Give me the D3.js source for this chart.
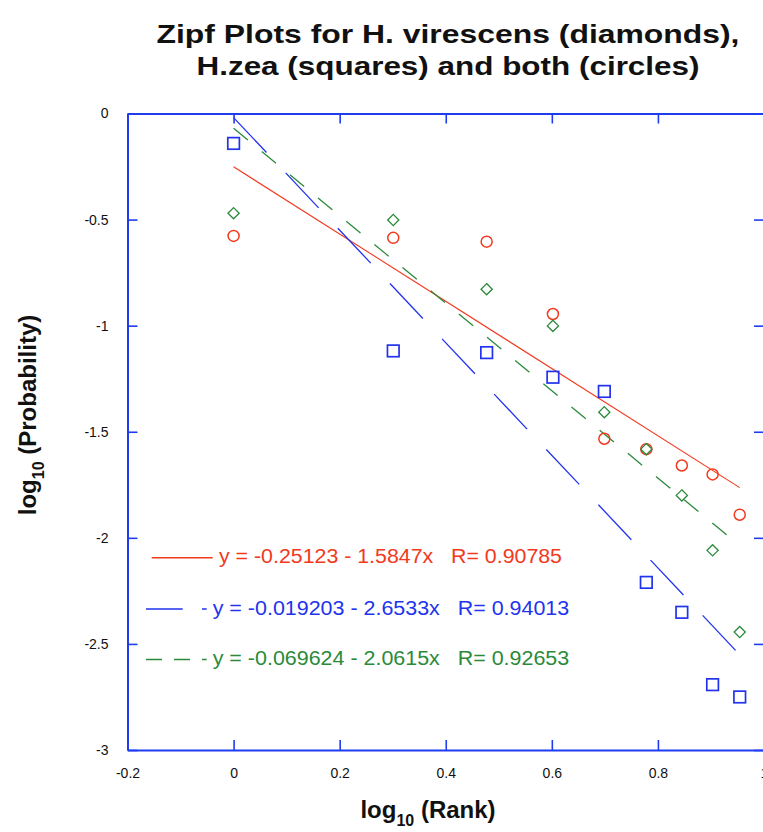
<!DOCTYPE html>
<html><head><meta charset="utf-8">
<script src="https://cdn.jsdelivr.net/npm/d3@7"></script>
<style>body{margin:0;background:#fff;} svg{display:block;}</style>
</head><body>
<svg id="chart" width="763" height="832"></svg>
<script>
// ---- data ----
const logRank = [0, 0.30103, 0.47712, 0.60206, 0.69897, 0.77815, 0.84510, 0.90309, 0.95424];
const bothCircles = [-0.577, -0.586, -0.604, -0.945, -1.533, -1.582, -1.659, -1.701, -1.891];
const virescensDiamonds = [-0.470, -0.502, -0.828, -1.001, -1.408, -1.582, -1.800, -2.059, -2.444];
const zeaSquares = [-0.141, -1.119, -1.127, -1.243, -1.310, -2.210, -2.351, -2.692, -2.750];
const fitIntercepts = [-0.25123, -0.019203, -0.069624];
const fitSlopes = [-1.5847, -2.6533, -2.0615];
const legendLabels = [
  "y = -0.25123 - 1.5847x   R= 0.90785",
  "y = -0.019203 - 2.6533x   R= 0.94013",
  "y = -0.069624 - 2.0615x   R= 0.92653"
];
const xTicks = [-0.2, 0, 0.2, 0.4, 0.6, 0.8, 1];
const yTicks = [0, -0.5, -1, -1.5, -2, -2.5, -3];
const titleLines = ["Zipf Plots for H. virescens (diamonds),", "H.zea (squares) and both (circles)"];

// ---- styles ----
const RED = "#f2391e", BLUE = "#2233ee", GREEN = "#2a8a3a", AXIS = "#1f3cf0";
const FONT = "'Liberation Sans', Arial, Helvetica, sans-serif";

const svg = d3.select("#chart");
const x = d3.scaleLinear().domain([-0.2, 1]).range([127.5, 764]);
const y = d3.scaleLinear().domain([-3, 0]).range([750, 113.5]);

// title
svg.append("g").selectAll("text").data(titleLines).join("text")
  .attr("x", 448).attr("y", (d, i) => 43 + i * 32)
  .attr("text-anchor", "middle")
  .attr("font-family", FONT).attr("font-weight", "bold").attr("font-size", 26.5)
  .attr("textLength", (d, i) => i === 0 ? 583 : 503)
  .attr("lengthAdjust", "spacingAndGlyphs")
  .attr("fill", "#111").text(d => d);

// axes
const fmt = d => String(d);
function styleAxis(g) {
  g.selectAll(".domain").attr("stroke", AXIS).attr("stroke-width", 2);
  g.selectAll(".tick line").attr("stroke", AXIS).attr("stroke-width", 1.6);
  g.selectAll("text").attr("font-family", FONT).attr("font-size", 14).attr("fill", "#111");
}
svg.append("g").attr("transform", `translate(0,${y(-3)})`)
  .call(d3.axisBottom(x).tickValues(xTicks).tickFormat(fmt).tickSizeInner(-10).tickSizeOuter(0).tickPadding(18))
  .call(styleAxis);
svg.append("g").attr("transform", `translate(0,${y(0)})`)
  .call(d3.axisTop(x).tickValues(xTicks).tickFormat("").tickSizeInner(-10).tickSizeOuter(0))
  .call(styleAxis);
svg.append("g").attr("transform", `translate(${x(-0.2)},0)`)
  .call(d3.axisLeft(y).tickValues(yTicks).tickFormat(fmt).tickSizeInner(-10).tickSizeOuter(0).tickPadding(19))
  .call(styleAxis);
svg.append("g").attr("transform", `translate(${x(1)},0)`)
  .call(d3.axisRight(y).tickValues(yTicks).tickFormat("").tickSizeInner(-10).tickSizeOuter(0))
  .call(styleAxis);

// axis titles
const xl = svg.append("text").attr("x", 428).attr("y", 818).attr("text-anchor", "middle")
  .attr("font-family", FONT).attr("font-weight", "bold").attr("font-size", 24).attr("fill", "#111");
xl.append("tspan").text("log");
xl.append("tspan").attr("font-size", 16).attr("dy", 8).text("10");
xl.append("tspan").attr("dy", -8).text(" (Rank)");

const yl = svg.append("text").attr("transform", "translate(36,415) rotate(-90)").attr("text-anchor", "middle")
  .attr("font-family", FONT).attr("font-weight", "bold").attr("font-size", 24).attr("fill", "#111");
yl.append("tspan").text("log");
yl.append("tspan").attr("font-size", 16).attr("dy", 8).text("10");
yl.append("tspan").attr("dy", -8).text(" (Probability)");

// fit lines
const fitColors = [RED, BLUE, GREEN];
const fitDash = [null, "48,28", "18.5,18"];
const fitWidth = [1.1, 1.3, 1.3];
const xEnd = logRank[logRank.length - 1];
fitIntercepts.forEach((b, i) => {
  const m = fitSlopes[i];
  svg.append("line")
    .attr("x1", x(0)).attr("y1", y(b))
    .attr("x2", x(xEnd)).attr("y2", y(b + m * xEnd))
    .attr("stroke", fitColors[i]).attr("stroke-width", fitWidth[i])
    .attr("stroke-dasharray", fitDash[i]);
});

// markers
svg.append("g").selectAll("circle").data(bothCircles).join("circle")
  .attr("cx", (d, i) => x(logRank[i])).attr("cy", d => y(d)).attr("r", 5.5)
  .attr("fill", "none").attr("stroke", RED).attr("stroke-width", 1.5);
svg.append("g").selectAll("rect").data(zeaSquares).join("rect")
  .attr("x", (d, i) => x(logRank[i]) - 5.8).attr("y", d => y(d) - 5.8)
  .attr("width", 11.6).attr("height", 11.6)
  .attr("fill", "none").attr("stroke", BLUE).attr("stroke-width", 1.7);
svg.append("g").selectAll("path").data(virescensDiamonds).join("path")
  .attr("transform", (d, i) => `translate(${x(logRank[i])},${y(d)})`)
  .attr("d", "M0,-5.6L5.6,0L0,5.6L-5.6,0Z")
  .attr("fill", "none").attr("stroke", GREEN).attr("stroke-width", 1.3);

// legend
const legY = [557.7, 609, 659.5];
const legX1 = [151.7, 146, 146];
const legX2 = [212.7, 206.7, 206.7];
const legDash = [null, "36.7,19.3", "16,12"];
const textX = [219, 212.7, 212.7];
const textLen = [343, 356.5, 356.5];
legendLabels.forEach((lab, i) => {
  svg.append("line").attr("x1", legX1[i]).attr("x2", legX2[i]).attr("y1", legY[i]).attr("y2", legY[i])
    .attr("stroke", fitColors[i]).attr("stroke-width", 1.6).attr("stroke-dasharray", legDash[i]);
  svg.append("text").attr("x", textX[i]).attr("y", legY[i] + 5.5)
    .attr("font-family", FONT).attr("font-size", 20).attr("fill", fitColors[i])
    .attr("textLength", textLen[i]).attr("lengthAdjust", "spacingAndGlyphs")
    .attr("xml:space", "preserve").style("white-space", "pre")
    .text(lab);
});
</script>
</body></html>
